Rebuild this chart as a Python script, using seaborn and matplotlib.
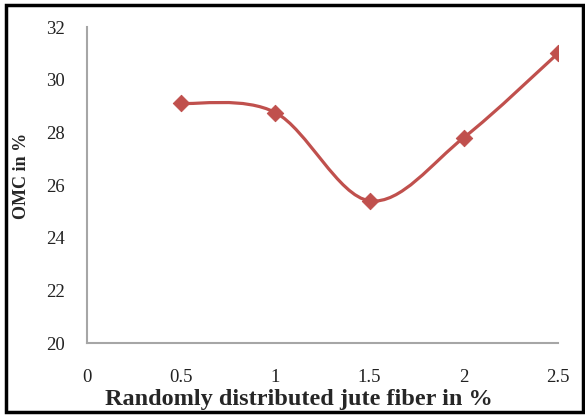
import numpy as np
import pandas as pd
import matplotlib
matplotlib.use("Agg")
import matplotlib.pyplot as plt
import seaborn as sns
from matplotlib.path import Path
from matplotlib.patches import PathPatch, Rectangle

fiber = [0.5, 1.0, 1.5, 2.0, 2.5]
omc = [29.1, 28.75, 25.4, 27.8, 31.0]
xticks = [0, 0.5, 1, 1.5, 2, 2.5]
xticklabels = ["0", "0.5", "1", "1.5", "2", "2.5"]
yticks = [20, 22, 24, 26, 28, 30, 32]

sns.set_style("white")
plt.rcParams["font.family"] = ["Liberation Serif", "DejaVu Serif"]

color = "#C0504D"
fig = plt.figure(figsize=(5.85, 4.16), dpi=100)
ax = fig.add_axes([87/585, 1-343/416, (558-87)/585, (343-27)/416])

df = pd.DataFrame({"fiber": fiber, "omc": omc})

# smooth (Excel-like) curve through the data points using Bezier segments
pts = np.column_stack([fiber, omc])
verts = [tuple(pts[0])]
codes = [Path.MOVETO]
n = len(pts)
for i in range(n - 1):
    p0 = pts[i - 1] if i > 0 else pts[i]
    p1 = pts[i]
    p2 = pts[i + 1]
    p3 = pts[i + 2] if i + 2 < n else pts[i + 1]
    c1 = p1 + (p2 - p0) / 6.0
    c2 = p2 - (p3 - p1) / 6.0
    verts += [tuple(c1), tuple(c2), tuple(p2)]
    codes += [Path.CURVE4] * 3
ax.add_patch(PathPatch(Path(verts, codes), facecolor="none", edgecolor=color,
                       lw=2.3, transform=ax.transData, zorder=2))

sns.scatterplot(data=df, x="fiber", y="omc", marker="D", s=70, color=color,
                edgecolor=color, ax=ax, zorder=3)

ax.set_xlim(0, 2.5)
ax.set_ylim(20, 32)
ax.set_xticks(xticks)
ax.set_xticklabels(xticklabels)
ax.set_yticks(yticks)
ax.tick_params(axis="both", length=0, labelsize=13.5, colors="#222222")
ax.tick_params(axis="x", pad=19)
ax.tick_params(axis="y", pad=16)
ax.set_xlabel("")
ax.set_ylabel("")
for s in ["top", "right"]:
    ax.spines[s].set_visible(False)
for s in ["left", "bottom"]:
    ax.spines[s].set_color("#A6A6A6")
    ax.spines[s].set_linewidth(1.5)

fig.text(299/585, 1-399/416, "Randomly distributed jute fiber in %", ha="center",
         va="center", fontsize=17.5, fontweight="bold")
fig.text(22/585, 1-176/416, "OMC in %", ha="center", va="center", rotation=90,
         fontsize=13, fontweight="bold")

fig.patches.append(Rectangle((6/585, 4/416), 577/585, 407/416, transform=fig.transFigure,
                             fill=False, edgecolor="black", lw=2.5))

fig.savefig("out.png", dpi=100)
